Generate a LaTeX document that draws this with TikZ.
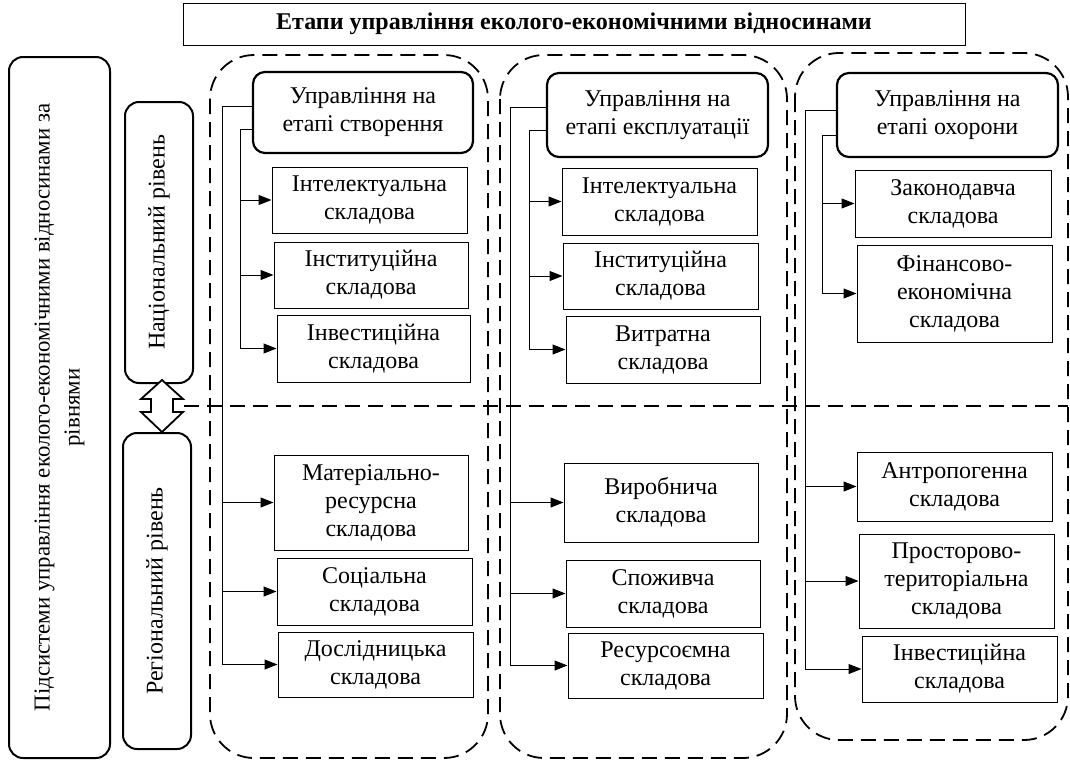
\documentclass[tikz,border=0pt]{standalone}
\usepackage{fontspec}
\setmainfont{Liberation Serif}
\usetikzlibrary{arrows.meta}
\newcommand{\bbox}[7]{\node[#1, minimum width={(#5-#3)*0.5pt}, minimum height={(#6-#4)*0.5pt}] (#2) at ({(#3+#5)/2},{(#4+#6)/2}) {#7};}
\begin{document}
\begin{tikzpicture}[x=0.5pt,y=-0.5pt,
  every node/.style={font=\fontsize{12}{14}\selectfont},
  plainbox/.style={draw, line width=0.5pt, align=center, inner sep=0pt, execute at begin node={\rule{0pt}{14pt}}},
  headbox/.style={draw, line width=1.1pt, rounded corners=6pt, align=center, inner sep=0pt, execute at begin node={\rule{0pt}{13pt}}},
  levelbox/.style={draw, line width=1pt, rounded corners=7pt, align=center, inner sep=0pt, rotate=90},
  frame/.style={draw, line width=0.9pt, dash pattern=on 7.5pt off 4pt, rounded corners=22pt},
  divider/.style={draw, line width=1pt, dash pattern=on 7.5pt off 4pt},
  conn/.style={draw, line width=0.5pt},
  arr/.style={conn, -{Triangle[length=6.5pt,width=5pt]}}]
\useasboundingbox (0,0) rectangle (1070,760);

% title
\node[draw, line width=0.5pt, inner sep=0pt, minimum width=391pt, minimum height=21pt,
  font=\fontsize{12}{14}\selectfont\bfseries] (title) at (574,24) {Етапи управління еколого-економічними відносинами};

% column frames
\draw[frame] (210,55) rectangle (488,758);
\draw[frame] (500,55) rectangle (787,758);
\draw[frame] (795,53) rectangle (1068,740);

% left boxes
\node[levelbox, minimum width=350.5pt, minimum height=50.5pt] (sub) at (59.5,407.5) {};
\node[rotate=90, align=center, inner sep=0pt, font=\fontsize{11.4}{15}\selectfont] (subtext) at (sub.center)
  {Підсистеми управління еколого-економічними відносинами за\\рівнями};
\node[levelbox, minimum width=140.5pt, minimum height=34pt] (nat) at (159,242.5) {Національний рівень};
\node[levelbox, minimum width=158pt, minimum height=34pt] (reg) at (157,591) {Регіональний рівень};

% double arrow between levels
\coordinate (mid) at (162,406);
\draw[line width=0.9pt, fill=white] ([shift={(0,-26)}]mid) -- ++(21,19) -- ++(-10,0) -- ++(0,13) -- ++(10,0)
  -- ++(-21,20) -- ++(-21,-20) -- ++(10,0) -- ++(0,-13) -- ++(-10,0) -- cycle;
\coordinate (divL) at (184,406);
\coordinate (divR) at (1068,406);
\draw[divider] (divL) -- (divR);

% column 1
\bbox{headbox}{h1}{253}{72}{473}{153}{Управління на\\етапі створення}
\bbox{plainbox}{n1a}{272}{167}{467}{233}{Інтелектуальна\\складова}
\bbox{plainbox}{n1b}{274}{242}{468}{308}{Інституційна\\складова}
\bbox{plainbox}{n1c}{277}{315}{470}{382}{Інвестиційна\\складова}
\bbox{plainbox}{r1a}{274}{455}{468}{550}{Матеріально-\\ресурсна\\складова}
\bbox{plainbox}{r1b}{277}{558}{472}{625}{Соціальна\\складова}
\bbox{plainbox}{r1c}{278}{632}{473}{697}{Дослідницька\\складова}
\coordinate (v1r) at (222,106);
\coordinate (v1n) at (240,129);
\draw[conn] (h1.west |- v1r) -- (v1r) -- (v1r |- r1c.west);
\draw[conn] (h1.west |- v1n) -- (v1n) -- (v1n |- n1c.west);
\foreach \b in {n1a,n1b,n1c} \draw[arr] (v1n |- \b.west) -- (\b.west);
\foreach \b in {r1a,r1b,r1c} \draw[arr] (v1r |- \b.west) -- (\b.west);

% column 2
\bbox{headbox}{h2}{547}{73}{768}{157}{Управління на\\етапі експлуатації}
\bbox{plainbox}{n2a}{562}{168}{757}{235}{Інтелектуальна\\складова}
\bbox{plainbox}{n2b}{563}{243}{758}{309}{Інституційна\\складова}
\bbox{plainbox}{n2c}{566}{316}{760}{383}{Витратна\\складова}
\bbox{plainbox}{r2a}{564}{463}{758}{542}{Виробнича\\складова}
\bbox{plainbox}{r2b}{566}{560}{760}{627}{Споживча\\складова}
\bbox{plainbox}{r2c}{568}{633}{763}{698}{Ресурсоємна\\складова}
\coordinate (v2r) at (510,107);
\coordinate (v2n) at (529,130);
\draw[conn] (h2.west |- v2r) -- (v2r) -- (v2r |- r2c.west);
\draw[conn] (h2.west |- v2n) -- (v2n) -- (v2n |- n2c.west);
\foreach \b in {n2a,n2b,n2c} \draw[arr] (v2n |- \b.west) -- (\b.west);
\foreach \b in {r2a,r2b,r2c} \draw[arr] (v2r |- \b.west) -- (\b.west);

% column 3
\bbox{headbox}{h3}{837}{73}{1058}{157}{Управління на\\етапі охорони}
\bbox{plainbox}{n3a}{855}{170}{1051}{237}{Законодавча\\складова}
\bbox{plainbox}{n3b}{857}{245}{1052}{342}{Фінансово-\\економічна\\складова}
\bbox{plainbox}{r3a}{857}{452}{1052}{521}{Антропогенна\\складова}
\bbox{plainbox}{r3b}{859}{534}{1054}{628}{Просторово-\\територіальна\\складова}
\bbox{plainbox}{r3c}{862}{636}{1057}{702}{Інвестиційна\\складова}
\coordinate (v3r) at (805,110);
\coordinate (v3n) at (822,135);
\draw[conn] (h3.west |- v3r) -- (v3r) -- (v3r |- r3c.west);
\draw[conn] (h3.west |- v3n) -- (v3n) -- (v3n |- n3b.west);
\foreach \b in {n3a,n3b} \draw[arr] (v3n |- \b.west) -- (\b.west);
\foreach \b in {r3a,r3b,r3c} \draw[arr] (v3r |- \b.west) -- (\b.west);
\end{tikzpicture}
\end{document}
